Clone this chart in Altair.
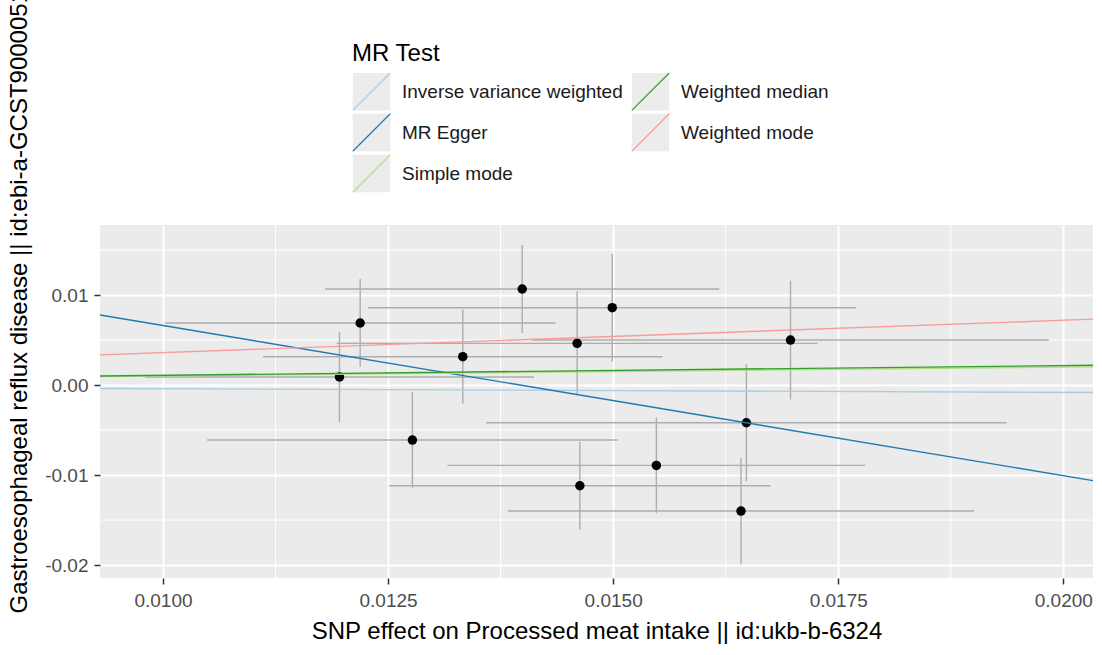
import altair as alt
import pandas as pd

# ---- SNP-level data ----
snp_bx = [0.01196, 0.01219, 0.01277, 0.01333, 0.01399, 0.01460, 0.01463, 0.01499, 0.01548, 0.01642, 0.01648, 0.01697]
snp_by = [0.00089, 0.00689, -0.00611, 0.00315, 0.01067, 0.00463, -0.01119, 0.00859, -0.00893, -0.01400, -0.00419, 0.00500]
snp_se_x = [0.00216, 0.00217, 0.00228, 0.00222, 0.00219, 0.00267, 0.00212, 0.00271, 0.00232, 0.00259, 0.00289, 0.00287]
snp_se_y = [0.00500, 0.00490, 0.00530, 0.00520, 0.00490, 0.00580, 0.00490, 0.00600, 0.00530, 0.00590, 0.00650, 0.00660]

# ---- MR method fits (intercept, slope) ----
methods = ["Inverse variance weighted", "MR Egger", "Simple mode", "Weighted median", "Weighted mode"]
method_intercept = [0.0, 0.02329, 0.0, 0.0, 0.0]
method_slope = [-0.041, -1.668, 0.100, 0.108, 0.360]
method_colors = ["#a6cee3", "#1f78b4", "#b2df8a", "#33a02c", "#fb9a99"]
key_fill = ["#ececec", "#ececec", "#ececec", "#ececec", "#ececec"]
legend_order = ["Inverse variance weighted", "Weighted median", "MR Egger", "Weighted mode", "Simple mode"]

# ---- axes ----
x_domain = [0.0093, 0.02033]
y_domain = [-0.02144, 0.01778]
x_ticks = [0.0100, 0.0125, 0.0150, 0.0175, 0.0200]
x_minor = [0.01125, 0.01375, 0.01625, 0.01875]
y_ticks = [-0.02, -0.01, 0.00, 0.01]
y_minor = [-0.015, -0.005, 0.005, 0.015]

x_title = "SNP effect on Processed meat intake || id:ukb-b-6324"
y_title = "Gastroesophageal reflux disease || id:ebi-a-GCST90000514"

FONT = "Liberation Sans"

snp = pd.DataFrame({"bx": snp_bx, "by": snp_by, "sx": snp_se_x, "sy": snp_se_y})
snp["x_lo"] = snp["bx"] - snp["sx"]
snp["x_hi"] = snp["bx"] + snp["sx"]
snp["y_lo"] = snp["by"] - snp["sy"]
snp["y_hi"] = snp["by"] + snp["sy"]

rows = []
for m, a, b in zip(methods, method_intercept, method_slope):
    for xv in x_domain:
        rows.append({"method": m, "x": xv, "y": a + b * xv})
lines = pd.DataFrame(rows)
keys = pd.DataFrame({"key_method": methods})

xs = alt.Scale(domain=x_domain, nice=False, zero=False)
ys = alt.Scale(domain=y_domain, nice=False, zero=False)

x_axis = alt.Axis(values=x_ticks, format=".4f", title=x_title,
                  grid=True, gridColor="white", gridWidth=2,
                  domain=False, ticks=True, tickColor="#333333", tickSize=6, tickWidth=1.5,
                  labelFont=FONT, labelFontSize=19, labelColor="#4d4d4d", labelPadding=7,
                  titleFont=FONT, titleFontSize=24, titleFontWeight="normal", titleColor="black",
                  titlePadding=9)
y_axis = alt.Axis(values=y_ticks, title=y_title,
                  labelExpr="replace(format(datum.value, '.2f'), '\u2212', '-')",
                  grid=True, gridColor="white", gridWidth=2,
                  domain=False, ticks=True, tickColor="#333333", tickSize=6, tickWidth=1.5,
                  labelFont=FONT, labelFontSize=19, labelColor="#4d4d4d", labelPadding=6,
                  titleFont=FONT, titleFontSize=24, titleFontWeight="normal", titleColor="black",
                  titleAngle=270, titleAlign="left", titleBaseline="alphabetic",
                  titleX=-74, titleY=388)

LEG_X = 252
LEG_Y = -183
TITLE_H = 24
TITLE_PAD = 6
SYM = 1400
SYM_W = 1.2
ROW_PAD = -8

minor_x = alt.Chart(pd.DataFrame({"v": x_minor})).mark_rule(color="white", strokeWidth=1).encode(
    x=alt.X("v:Q", scale=xs, axis=x_axis))
minor_y = alt.Chart(pd.DataFrame({"v": y_minor})).mark_rule(color="white", strokeWidth=1).encode(
    y=alt.Y("v:Q", scale=ys, axis=y_axis))

# legend key backgrounds (grey squares; nothing drawn in the panel)
key_bg = alt.Chart(keys).mark_square(opacity=0).encode(
    x=alt.value(-50), y=alt.value(-50),
    color=alt.Color("key_method:N",
                    scale=alt.Scale(domain=methods, range=key_fill),
                    sort=legend_order,
                    legend=alt.Legend(title=None, orient="none", legendX=LEG_X,
                                      legendY=LEG_Y + TITLE_H + TITLE_PAD,
                                      columns=2, direction="vertical",
                                      symbolType="square", symbolSize=SYM,
                                      symbolStrokeWidth=SYM_W, symbolStrokeColor="transparent",
                                      symbolOpacity=1,
                                      labelExpr="''", labelFontSize=19, labelOffset=11,
                                      columnPadding=227, rowPadding=ROW_PAD,
                                      padding=0, offset=0)))

err_v = alt.Chart(snp).mark_rule(color="#adadad", strokeWidth=1.4).encode(
    x=alt.X("bx:Q", scale=xs), y=alt.Y("y_lo:Q", scale=ys), y2="y_hi:Q")
err_h = alt.Chart(snp).mark_rule(color="#adadad", strokeWidth=1.4).encode(
    y=alt.Y("by:Q", scale=ys), x=alt.X("x_lo:Q", scale=xs), x2="x_hi:Q")
pts = alt.Chart(snp).mark_circle(color="black", opacity=1, size=90).encode(
    x=alt.X("bx:Q", scale=xs), y=alt.Y("by:Q", scale=ys))

ln = alt.Chart(lines).mark_line(strokeWidth=1.4, clip=True).encode(
    x=alt.X("x:Q", scale=xs),
    y=alt.Y("y:Q", scale=ys),
    stroke=alt.Stroke("method:N",
                      scale=alt.Scale(domain=methods, range=method_colors),
                      sort=legend_order,
                      legend=alt.Legend(title="MR Test", orient="none", legendX=LEG_X, legendY=LEG_Y,
                                        columns=2, direction="vertical",
                                        symbolType="M-1,1L1,-1", symbolSize=SYM, symbolStrokeWidth=SYM_W,
                                        labelFont=FONT, labelFontSize=19, labelColor="#1a1a1a", labelOffset=11,
                                        titleFont=FONT, titleFontSize=24, titleFontWeight="normal",
                                        titleColor="black", titlePadding=TITLE_PAD,
                                        columnPadding=6, rowPadding=ROW_PAD, padding=0, offset=0,
                                        labelLimit=400)),
    detail="method:N")

chart = alt.layer(minor_x, minor_y, key_bg, err_v, err_h, pts, ln).properties(
    width=993, height=353,
    autosize=alt.AutoSizeParams(type="none"),
    padding={"left": 100, "top": 225, "right": 9, "bottom": 77},
    background="white",
).resolve_scale(color="independent", stroke="independent").configure_view(fill="#EBEBEB", strokeWidth=0)

chart.save("out.html", embed_options={"renderer": "svg", "actions": False})
